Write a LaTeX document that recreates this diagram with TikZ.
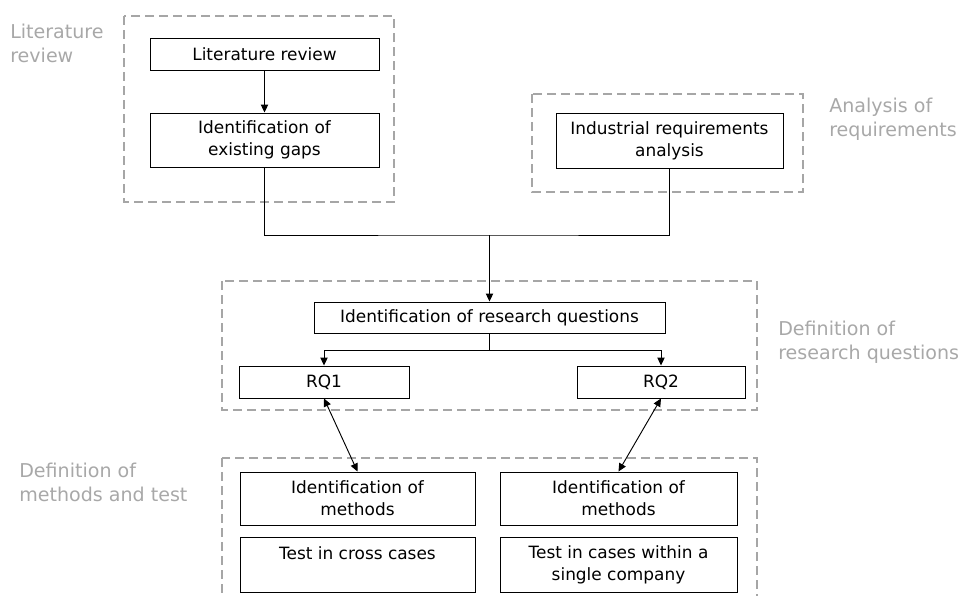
\documentclass[tikz,border=0pt]{standalone}
\usepackage{fontspec}
\setmainfont{DejaVu Sans}
\usetikzlibrary{arrows.meta}
\definecolor{labelgray}{HTML}{A8A8A8}
\definecolor{dashgray}{HTML}{A6A6A6}
\begin{document}
\begin{tikzpicture}[x=0.75pt,y=-0.75pt,
  box/.style={draw=black, line width=0.7pt, fill=white, align=center, inner sep=2pt,
    font=\fontsize{12.7}{16.5}\selectfont},
  group/.style={draw=dashgray, line width=1pt, dash pattern=on 6.5pt off 4pt},
  grouplabel/.style={anchor=north west, inner sep=0pt, align=left, text=labelgray,
    font=\fontsize{14.3}{17.5}\selectfont},
  link/.style={line width=0.7pt, draw=black},
  arr/.style={link, -{Triangle[length=6pt,width=5.5pt]}},
  darr/.style={link, {Triangle[length=6pt,width=5.5pt]}-{Triangle[length=6pt,width=5.5pt]}}]
\useasboundingbox (0,0) rectangle (965,596);
\clip (0,0) rectangle (965,596);

% dashed group frames
\draw[group] (124,16) rectangle (394,202);
\draw[group] (532,94) rectangle (803,192);
\draw[group] (222,281) rectangle (757,410);
\draw[group] (222,458) rectangle (757,620);

% group captions
\node[grouplabel] (capLit) at (10,24) {Literature\\review};
\node[grouplabel] (capReq) at (829,98) {Analysis of\\requirements};
\node[grouplabel] (capRQ) at (778,321) {Definition of\\research questions};
\node[grouplabel] (capMeth) at (19,463) {Definition of\\methods and test};

% process boxes
\node[box, minimum width=171.75pt, minimum height=24pt] (lit) at (264.5,54) {Literature review};
\node[box, minimum width=171.75pt, minimum height=40.5pt] (gaps) at (264.5,140) {Identification of\\existing gaps};
\node[box, minimum width=170.25pt, minimum height=41.25pt] (ind) at (669.5,140.5) {Industrial requirements\\analysis};
\node[box, minimum width=263.25pt, minimum height=23.25pt] (rq) at (489.5,317.5) {Identification of research questions};
\node[box, minimum width=127.5pt, minimum height=24pt] (rq1) at (324,382) {RQ1};
\node[box, minimum width=126pt, minimum height=24pt] (rq2) at (661,382) {RQ2};
\node[box, minimum width=176.25pt, minimum height=39.75pt] (m1) at (357.5,498.5) {Identification of\\methods};
\node[box, minimum width=177.75pt, minimum height=39.75pt] (m2) at (618.5,498.5) {Identification of\\methods};
\node[box, minimum width=176.25pt, minimum height=41.25pt] (t1) at (357.5,564.5) {Test in cross cases\\\mbox{}};
\node[box, minimum width=177.75pt, minimum height=41.25pt] (t2) at (618.5,564.5) {Test in cases within a\\single company};

% connectors
\coordinate (joinrow) at (0,235);
\coordinate (splitrow) at (0,350);
\coordinate (join) at (rq.north |- joinrow);
\coordinate (split) at (rq.south |- splitrow);

\draw[arr] (lit) -- (gaps);
\draw[link] (gaps.south) |- (join) -| (ind.south);
\draw[arr] (join) -- (rq.north);
\draw[link] (rq.south) -- (split);
\draw[arr] (split) -| (rq1.north);
\draw[arr] (split) -| (rq2.north);
\draw[darr] (rq1.south) -- (m1.north);
\draw[darr] (rq2.south) -- (m2.north);
\end{tikzpicture}
\end{document}
